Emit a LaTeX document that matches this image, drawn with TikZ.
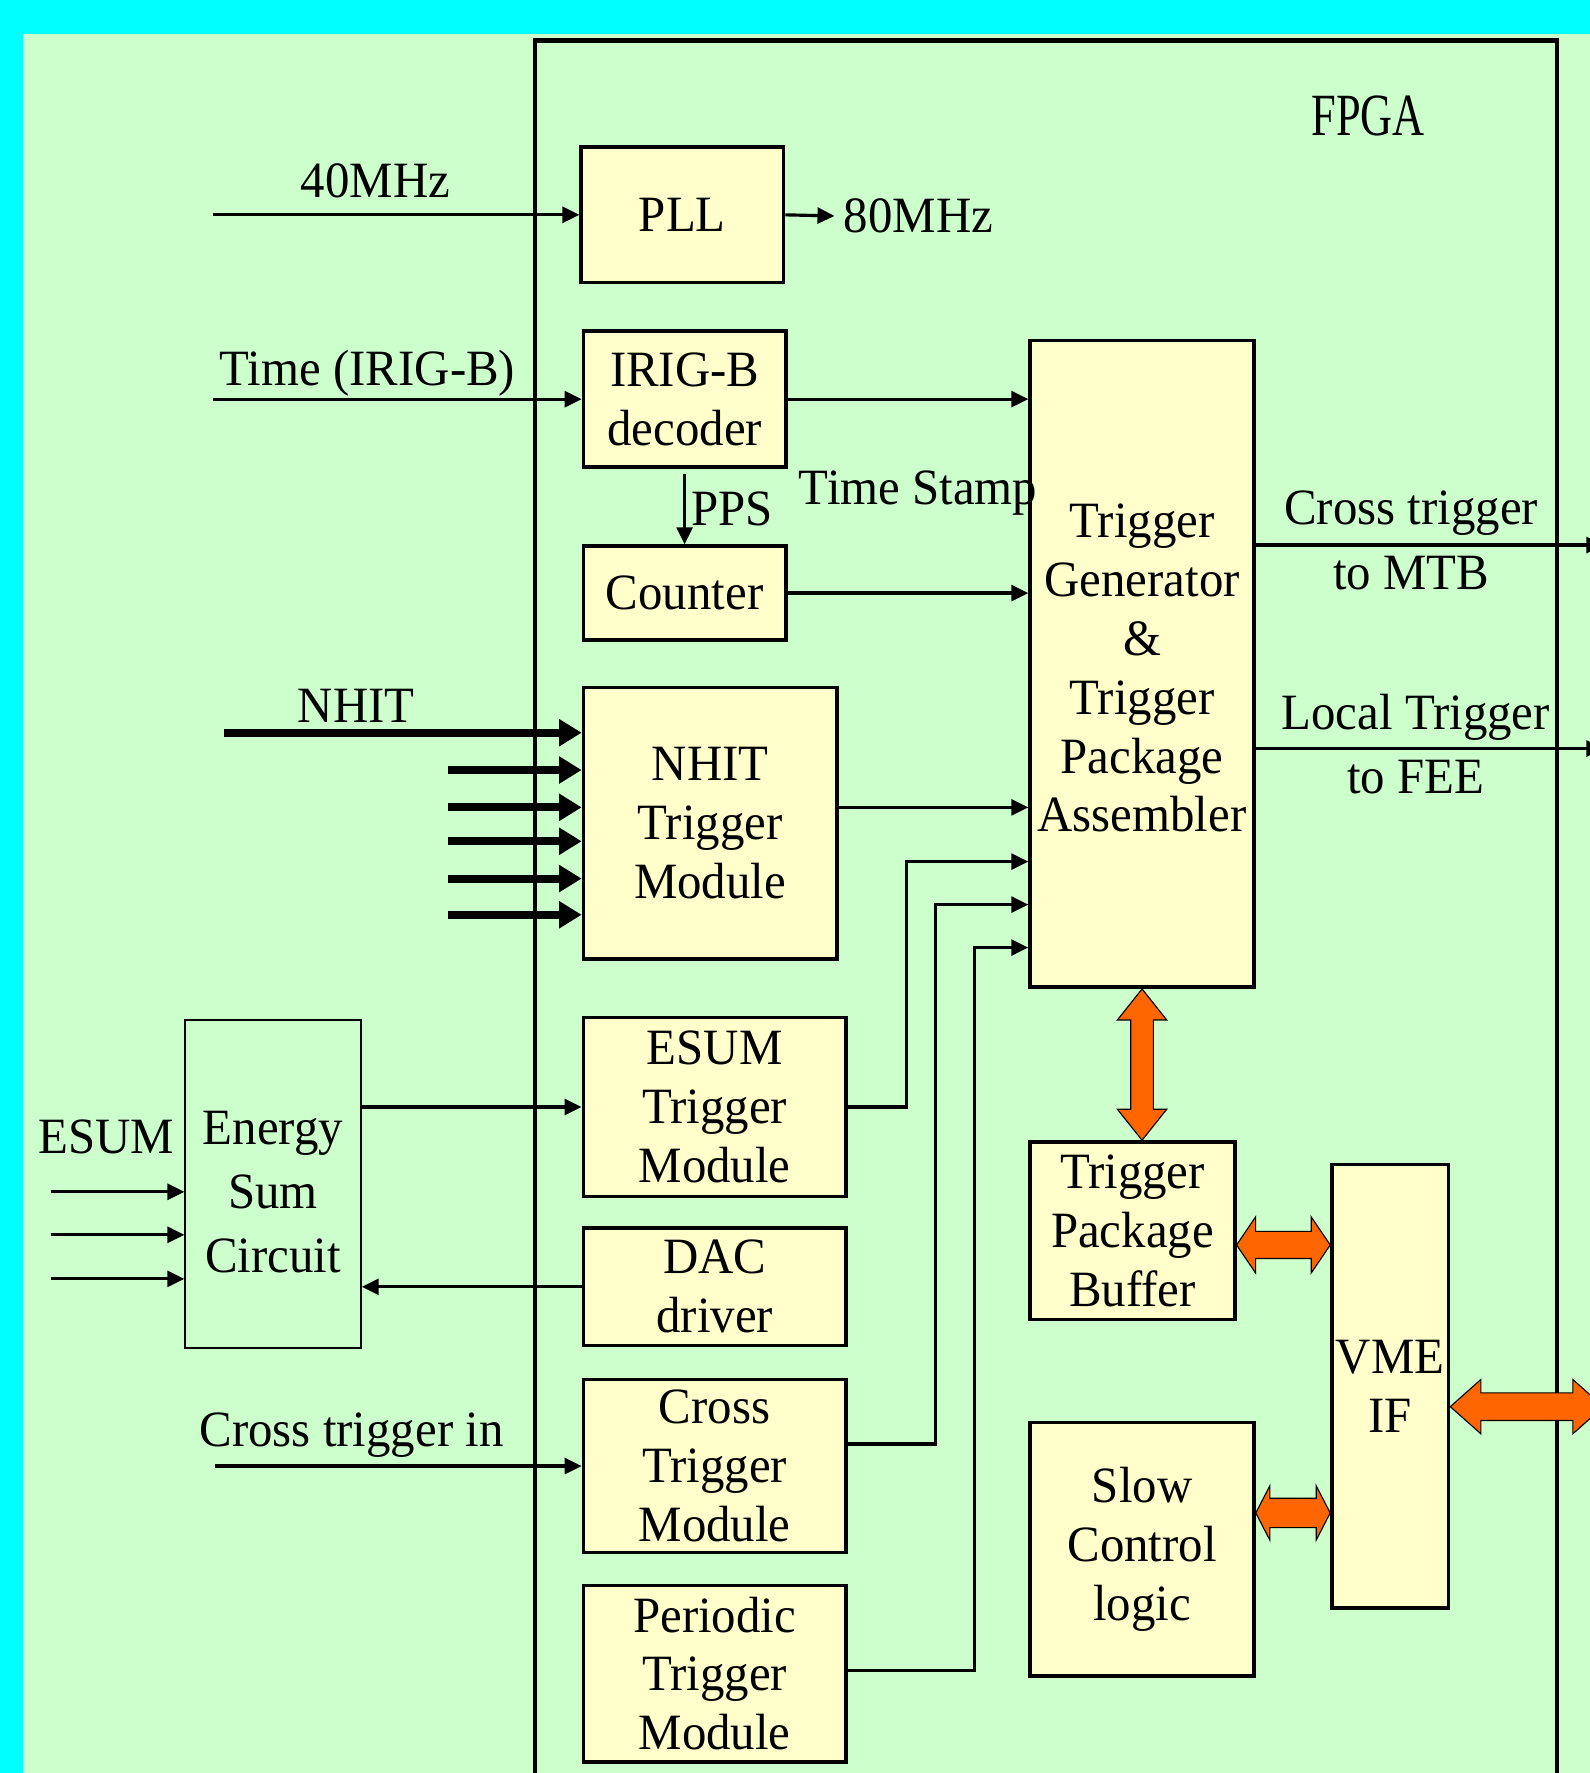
\documentclass[tikz,border=0pt]{standalone}
\usepackage{fontspec}
\setmainfont[FakeStretch=0.96]{Liberation Serif}
\newfontfamily\narrowserif[FakeStretch=0.74]{Liberation Serif}
\usetikzlibrary{arrows.meta,calc}
\definecolor{sky}{HTML}{00FFFF}
\definecolor{mint}{HTML}{CCFFCC}
\definecolor{cream}{HTML}{FFFFCC}
\definecolor{flame}{HTML}{FF6600}
\newcommand{\txt}{\fontsize{22.5}{26}\selectfont}
\newcommand{\wide}{\fontsize{22.5}{28.5}\selectfont}
\newcommand{\tall}{\fontsize{26.5}{30}\selectfont}
\tikzset{
  blk/.style={draw=black,fill=cream,line width=1.6pt,inner sep=0pt,align=center,font=\txt},
  lbl/.style={inner sep=0pt,font=\txt},
  conn/.style={line width=1.4pt,-{Triangle[length=7.5pt,width=7pt]}},
  fat/.style={line width=3.5pt,-{Triangle[length=10pt,width=11.5pt]}},
  bigarrow/.style n args={3}{draw=black,fill=flame,line width=0.5pt,
    to path={
      -- ($(\tikztostart)!#1!(\tikztotarget)!#2!90:(\tikztotarget)$)
      -- ($(\tikztostart)!#1!(\tikztotarget)!#3!90:(\tikztotarget)$)
      -- ($(\tikztotarget)!#1!(\tikztostart)!#3!-90:(\tikztostart)$)
      -- ($(\tikztotarget)!#1!(\tikztostart)!#2!-90:(\tikztostart)$)
      -- (\tikztotarget)
      -- ($(\tikztotarget)!#1!(\tikztostart)!#2!90:(\tikztostart)$)
      -- ($(\tikztotarget)!#1!(\tikztostart)!#3!90:(\tikztostart)$)
      -- ($(\tikztostart)!#1!(\tikztotarget)!#3!-90:(\tikztotarget)$)
      -- ($(\tikztostart)!#1!(\tikztotarget)!#2!-90:(\tikztotarget)$)
      -- cycle}}
}

\begin{document}
\begin{tikzpicture}[x=0.5pt,y=-0.5pt]
\useasboundingbox (0,0) rectangle (1406,1568);
\fill[sky] (0,0) rectangle (1406,1568);
\fill[mint] (20,30) rectangle (1406,1568);
\draw[line width=2pt] (473,36) rectangle (1377,1610);
\node[inner sep=0pt,anchor=base,font=\tall\narrowserif] (fpga) at (1210,120) {FPGA};
% clock and time
\node[blk,minimum width=89.5pt,minimum height=60pt] (pll) at (603.5,190) {PLL};
\node[blk,minimum width=89.5pt,minimum height=60pt] (irig) at (605.5,353) {IRIG-B\\decoder};
\node[blk,minimum width=89.5pt,minimum height=41.5pt] (cnt) at (605.5,524.5) {Counter};
% trigger modules
\node[blk,minimum width=112pt,minimum height=120pt] (nhitm) at (628,728) {NHIT\\Trigger\\Module};
\node[blk,minimum width=116pt,minimum height=79pt] (esumm) at (632,979) {ESUM\\Trigger\\Module};
\node[blk,minimum width=116pt,minimum height=52pt] (dac) at (632,1138) {DAC\\driver};
\node[blk,minimum width=116pt,minimum height=76.5pt] (crossm) at (632,1296.5) {Cross\\Trigger\\Module};
\node[blk,minimum width=116pt,minimum height=78pt] (perm) at (632,1480) {Periodic\\Trigger\\Module};
% assembler, buffer, VME
\node[blk,minimum width=99pt,minimum height=286pt] (tg) at (1010,587) {\rule{0pt}{19pt}Trigger\\Generator\\\&\\Trigger\\Package\\Assembler};
\node[blk,minimum width=90.5pt,minimum height=78.5pt] (tpb) at (1001.5,1088.5) {Trigger\\Package\\Buffer};
\node[blk,minimum width=99pt,minimum height=112pt] (sc) at (1010,1370) {Slow\\Control\\logic};
\node[blk,minimum width=51.5pt,minimum height=196pt] (vme) at (1229.5,1226) {VME\\IF};
% outside the FPGA
\node[blk,fill=mint,line width=0.9pt,minimum width=77.5pt,minimum height=145pt,font=\wide] (esc) at (241.5,1047) {\rule{0pt}{22pt}Energy\\Sum\\Circuit};
% labels
\node[lbl,anchor=base] (l40) at (332,175) {40MHz};
\node[lbl,anchor=west,inner sep=4pt] (l80) at (738,191) {80MHz};
\node[lbl,anchor=base] (ltime) at (325,341) {Time (IRIG-B)};
\node[lbl,anchor=base west] (lpps) at (611,465) {PPS};
\node[lbl,anchor=base] (lstamp) at (812,446) {Time Stamp};
\node[lbl,align=center,font=\wide] (lmtb) at (1248,478) {Cross trigger\\to MTB};
\node[lbl,align=center,font=\wide] (lfee) at (1252,658) {Local Trigger\\to FEE};
\node[lbl,anchor=base] (lnhit) at (315,639) {NHIT};
\node[lbl,anchor=base] (lesum) at (94,1020) {ESUM};
\node[lbl,anchor=base] (lxin) at (311,1279) {Cross trigger in};
% free ends
\coordinate (c40) at (188,190);
\coordinate (ctime) at (188,353);
\coordinate (cxin) at (190,1296.5);
\coordinate (cmtb) at (1418,482);
\coordinate (cfee) at (1418,662);
\coordinate (cvme) at (1418,1244);
\coordinate (b1) at (1100,1101);
\coordinate (b2) at (1140,1338);
% connectors
\draw[conn] (c40) -- (pll.west);
\draw[conn] (pll.east) -- (l80.west);
\draw[conn] (ctime) -- (irig.west);
\draw[conn] (irig.east) -- (irig.east -| tg.west);
\draw[conn,shorten <=2.5pt] (irig.south) -- (cnt.north);
\draw[conn] (cnt.east) -- (cnt.east -| tg.west);
\draw[conn] ($(nhitm.east)+(0,-14)$) -- ($(nhitm.east -| tg.west)+(0,-14)$);
\draw[conn] (esumm.east) -- ++(52,0) |- ($(tg.west)+(0,175)$);
\draw[conn] ($(crossm.east)+(0,-19.5)$) -- ++(78,0) |- ($(tg.west)+(0,213)$);
\draw[conn] ($(perm.east)+(0,-3)$) -- ++(112,0) |- ($(tg.west)+(0,251)$);
\draw[conn] (dac.west) -- (dac.west -| esc.east);
\draw[conn] (esc.east |- esumm.west) -- (esumm.west);
\foreach \y [count=\i] in {1054,1092,1131} {
  \coordinate (ein\i) at (45,\y);
  \draw[conn] (ein\i) -- (ein\i -| esc.west);
}
\coordinate (nin0) at (198,648);
\draw[fat] (nin0) -- (nin0 -| nhitm.west);
\foreach \y [count=\i] in {681,714,744,777,809} {
  \coordinate (nin\i) at (396,\y);
  \draw[fat] (nin\i) -- (nin\i -| nhitm.west);
}
\draw[conn] (cxin) -- (crossm.west);
\draw[conn] (tg.east |- cmtb) -- (cmtb);
\draw[conn] (tg.east |- cfee) -- (cfee);
% data paths
\draw[bigarrow={13.7pt}{10.9pt}{5pt}] (tg.south) to (tg.south |- tpb.north);
\draw[bigarrow={8.4pt}{12.4pt}{6pt}] (tpb.east |- b1) to (vme.west |- b1);
\draw[bigarrow={6.2pt}{12pt}{6.5pt}] (sc.east |- b2) to (vme.west |- b2);
\draw[bigarrow={13.5pt}{12pt}{6.1pt}] (vme.east |- cvme) to (cvme);
\end{tikzpicture}
\end{document}
